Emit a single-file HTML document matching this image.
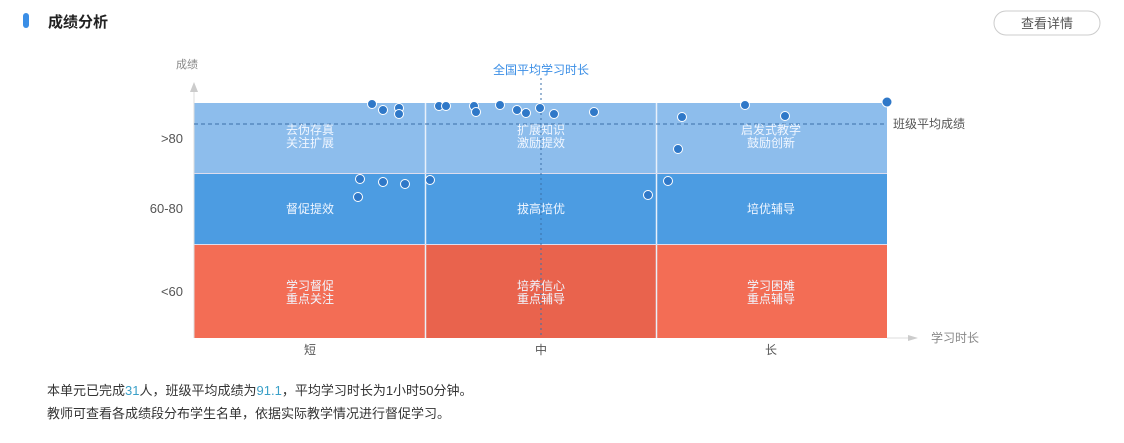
<!DOCTYPE html>
<html><head><meta charset="utf-8"><style>
body{margin:0;width:1124px;height:443px;background:#fff;overflow:hidden;font-family:"Liberation Sans","Noto Sans CJK SC",sans-serif;}
</style></head><body>
<svg width="1124" height="443" xmlns="http://www.w3.org/2000/svg" style="position:absolute;left:0;top:0;font-family:'Liberation Sans','Noto Sans CJK SC',sans-serif">
<rect x="23" y="13" width="6" height="15" rx="3" fill="#3a8ee6"/>
<text x="48" y="27" font-size="15" font-weight="bold" fill="#222">成绩分析</text>
<rect x="994" y="11" width="106" height="24" rx="12" fill="#fff" stroke="#ccc"/>
<text x="1047" y="28" font-size="13" fill="#555" text-anchor="middle">查看详情</text>
<!-- regions -->
<rect x="194" y="103" width="693" height="70" fill="#8dbdec"/>
<rect x="194" y="174" width="693" height="70" fill="#4c9ce2"/>
<rect x="194" y="245" width="693" height="93" fill="#f36d55"/>
<rect x="426" y="245" width="230" height="93" fill="#e9634d"/>
<line x1="425.5" y1="103" x2="425.5" y2="338" stroke="#e8f0fa" stroke-width="1.5"/>
<line x1="656.5" y1="103" x2="656.5" y2="338" stroke="#e8f0fa" stroke-width="1.5"/>
<line x1="194" y1="173.5" x2="887" y2="173.5" stroke="#dde" stroke-width="1"/>
<line x1="194" y1="244.5" x2="887" y2="244.5" stroke="#dde" stroke-width="1"/>
<!-- axes -->
<line x1="194" y1="84" x2="194" y2="338" stroke="#ddd"/>
<path d="M190 92 L194 82 L198 92 Z" fill="#ccc"/>
<text x="187" y="68" font-size="11" fill="#888" text-anchor="middle">成绩</text>
<line x1="887" y1="338" x2="912" y2="338" stroke="#ddd"/>
<path d="M908 335 L918 338 L908 341 Z" fill="#ccc"/>
<text x="931" y="342" font-size="12" fill="#888">学习时长</text>
<line x1="194" y1="124" x2="887" y2="124" stroke="#3a6fa8" stroke-dasharray="4,3"/>
<text x="893" y="128" font-size="12" fill="#555">班级平均成绩</text>
<line x1="541" y1="78" x2="541" y2="338" stroke="#3a6fa8" stroke-dasharray="2,3"/>
<text x="541" y="74" font-size="12" fill="#3a8ee6" text-anchor="middle">全国平均学习时长</text>
<!-- y labels -->
<g font-size="13" fill="#555" text-anchor="end">
<text x="183" y="143">&gt;80</text><text x="183" y="213">60-80</text><text x="183" y="296">&lt;60</text>
</g>
<g font-size="12" fill="#555" text-anchor="middle">
<text x="310" y="354">短</text><text x="541" y="354">中</text><text x="771" y="354">长</text>
</g>
<!-- region labels -->
<g font-size="12" fill="#f0f6ff" text-anchor="middle">
<text x="310" y="134">去伪存真</text><text x="310" y="147">关注扩展</text>
<text x="541" y="134">扩展知识</text><text x="541" y="147">激励提效</text>
<text x="771" y="134">启发式教学</text><text x="771" y="147">鼓励创新</text>
<text x="310" y="213">督促提效</text><text x="541" y="213">拔高培优</text><text x="771" y="213">培优辅导</text>
<text x="310" y="290">学习督促</text><text x="310" y="303">重点关注</text>
<text x="541" y="290">培养信心</text><text x="541" y="303">重点辅导</text>
<text x="771" y="290">学习困难</text><text x="771" y="303">重点辅导</text>
</g>
<!-- dots -->
<g fill="#2f78c8" stroke="#fff" stroke-width="1">
<circle cx="372" cy="104" r="4.5"/><circle cx="383" cy="110" r="4.5"/><circle cx="399" cy="108" r="4.5"/><circle cx="399" cy="114" r="4.5"/>
<circle cx="439" cy="106" r="4.5"/><circle cx="446" cy="106" r="4.5"/><circle cx="474" cy="106" r="4.5"/><circle cx="476" cy="112" r="4.5"/>
<circle cx="500" cy="105" r="4.5"/><circle cx="517" cy="110" r="4.5"/><circle cx="526" cy="113" r="4.5"/><circle cx="540" cy="108" r="4.5"/>
<circle cx="554" cy="114" r="4.5"/><circle cx="594" cy="112" r="4.5"/><circle cx="682" cy="117" r="4.5"/><circle cx="745" cy="105" r="4.5"/>
<circle cx="785" cy="116" r="4.5"/><circle cx="887" cy="102" r="5"/><circle cx="678" cy="149" r="4.5"/>
<circle cx="360" cy="179" r="4.5"/><circle cx="383" cy="182" r="4.5"/><circle cx="405" cy="184" r="4.5"/><circle cx="430" cy="180" r="4.5"/>
<circle cx="358" cy="197" r="4.5"/><circle cx="648" cy="195" r="4.5"/><circle cx="668" cy="181" r="4.5"/>
</g>
<text x="47" y="395" font-size="13" fill="#333">本单元已完成<tspan fill="#3aa0c8">31</tspan>人，班级平均成绩为<tspan fill="#3aa0c8">91.1</tspan>，平均学习时长为1小时50分钟。</text>
<text x="47" y="418" font-size="13" fill="#333">教师可查看各成绩段分布学生名单，依据实际教学情况进行督促学习。</text>
</svg>
</body></html>
